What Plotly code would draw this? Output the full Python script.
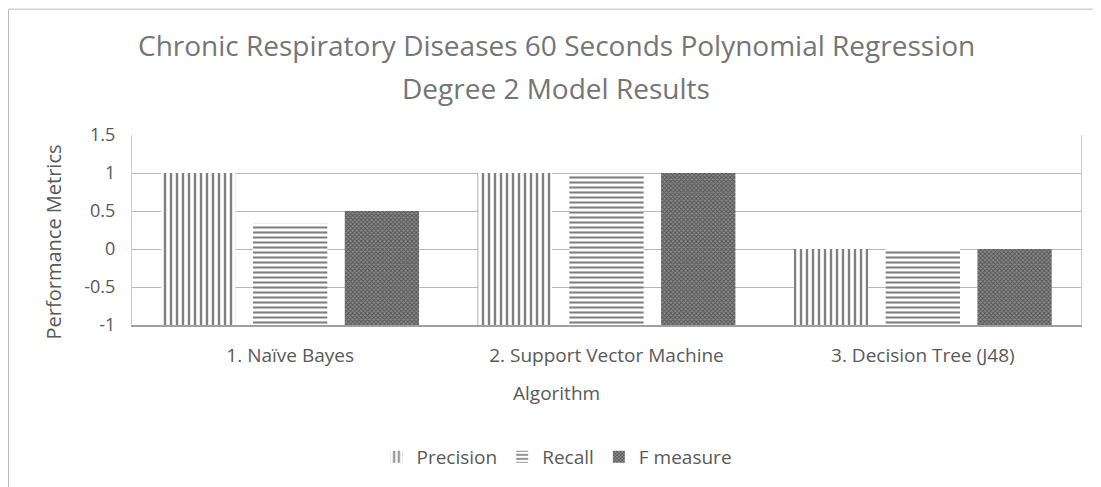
import plotly.graph_objects as go

algorithms = ['1. Naïve Bayes', '2. Support Vector Machine', '3. Decision Tree (J48)']
precision = [1.0, 1.0, 0.0]
recall = [0.333, 1.0, 0.0]
f_measure = [0.5, 1.0, 0.0]
y_ticks = [-1, -0.5, 0, 0.5, 1, 1.5]
y_ticktext = ['-1', '-0.5', '0', '0.5', '1', '1.5']

axis_floor = -1  # Excel horizontal axis crosses at -1, bars grow from there
font_family = 'Open Sans, sans-serif'

# the page body has an 8px margin, so the figure starts at (8, 8) of the window
OFF = 8
W, H = 1101 - OFF, 487 - OFF
# plot area in window pixels
L, R, T, B = 132, 1081, 135, 326
def px_x(px):
    return (px - L) / (R - L)
def px_y(py):
    return (B - py) / (B - T)

series = [
    ('Precision', precision, dict(shape='|', fgcolor='#000', bgcolor='white', size=6, solidity=0.4)),
    ('Recall', recall, dict(shape='-', fgcolor='#000', bgcolor='white', size=5, solidity=0.42)),
    ('F measure', f_measure, dict(shape='x', fgcolor='#1a1a1a', bgcolor='#8a8a8a', size=3, solidity=0.5)),
]

fig = go.Figure()
for name, vals, pat in series:
    fig.add_trace(go.Bar(
        x=algorithms,
        y=[v - axis_floor for v in vals],
        base=axis_floor,
        name=name,
        marker=dict(color='white', line=dict(width=0), pattern=pat),
    ))

fig.update_layout(
    barmode='group', bargap=0.13, bargroupgap=0.19,
    width=W, height=H,
    margin=dict(l=L - OFF, r=(W + OFF) - R, t=T - OFF, b=(H + OFF) - B),
    paper_bgcolor='white', plot_bgcolor='white',
    font=dict(family=font_family, color='#595959', size=19),
    showlegend=True,
    legend=dict(orientation='h', x=px_x(557), xanchor='center', y=px_y(457), yanchor='middle',
                font=dict(size=19, color='#595959'), itemwidth=30),
)
fig.update_yaxes(
    range=[-1, 1.5], tickvals=y_ticks, ticktext=y_ticktext,
    showgrid=True, gridcolor='#b8b8b8', gridwidth=1,
    zeroline=False, showline=True, linecolor='#cccccc', mirror=True,
    ticks='', tickfont=dict(size=18), ticklabelstandoff=12, automargin=False,
)
fig.update_xaxes(
    showline=True, linecolor='#a0a0a0', linewidth=2, mirror=False, ticks='',
    tickfont=dict(size=19), ticklabelstandoff=12, automargin=False,
)

annotations = [
    dict(text='Chronic Respiratory Diseases 60 Seconds Polynomial Regression', x=px_x(556), y=px_y(45),
         font=dict(size=28, color='#757575')),
    dict(text='Degree 2 Model Results', x=px_x(556), y=px_y(88), font=dict(size=28, color='#757575')),
    dict(text='Algorithm', x=px_x(556), y=px_y(394), font=dict(size=19, color='#595959')),
    dict(text='Performance Metrics', x=px_x(53), y=px_y(243), textangle=-90,
         font=dict(size=20, color='#595959')),
]
for a in annotations:
    fig.add_annotation(xref='paper', yref='paper', showarrow=False,
                       xanchor='center', yanchor='middle', **a)

# chart frame like the Excel chart border (left and top edges visible)
fig.add_shape(type='rect', xref='paper', yref='paper',
              x0=px_x(8.5), x1=px_x(1120), y0=px_y(520), y1=px_y(8.5),
              line=dict(color='#bdbdbd', width=1), layer='below')

fig.write_html('out.html')
